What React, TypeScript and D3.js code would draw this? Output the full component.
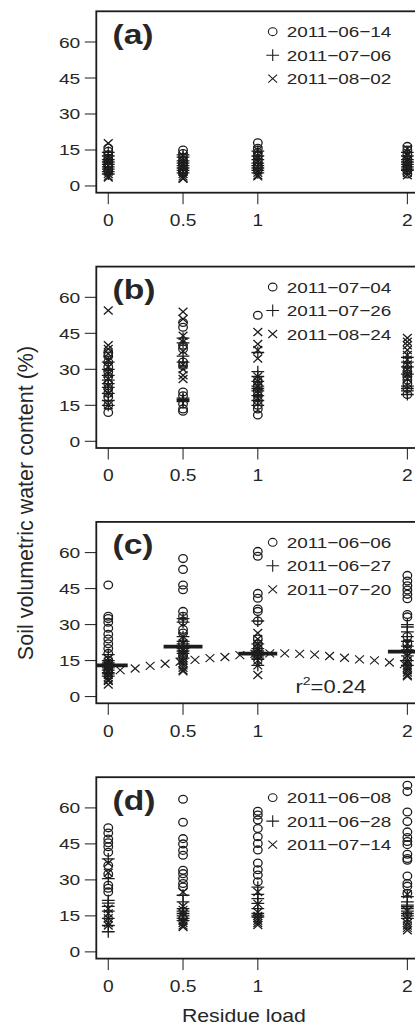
import React from 'react';
import * as d3 from 'd3';

// ---------- data ----------
const xCats = [0, 0.5, 1, 2];
const xTicks = [0, 0.5, 1, 2];
const xTickLabels = ['0', '0.5', '1', '2'];
const yTicks = [0, 15, 30, 45, 60];
const panelLabels = ['(a)', '(b)', '(c)', '(d)'];

const legendA = ['2011\u221206\u221214', '2011\u221207\u221206', '2011\u221208\u221202'];
const legendB = ['2011\u221207\u221204', '2011\u221207\u221226', '2011\u221208\u221224'];
const legendC = ['2011\u221206\u221206', '2011\u221206\u221227', '2011\u221207\u221220'];
const legendD = ['2011\u221206\u221208', '2011\u221206\u221228', '2011\u221207\u221214'];

// values per residue load (0, 0.5, 1, 2)
const aCircle = [
  [15.8, 14.5, 13, 11.5, 10.5, 9.5, 8.5, 7.5, 6.5],
  [15.0, 13.5, 12, 10.5, 9.5, 8.5, 7, 6, 5.5],
  [18.0, 15.7, 14, 12.5, 11, 10, 9, 8, 7],
  [16.5, 15, 13, 11.5, 10, 9, 8, 6.5, 5],
];
const aPlus = [
  [14, 12.5, 11, 10, 9, 8, 7, 6, 5],
  [13, 12, 10.5, 9.5, 8.5, 7.5, 6.5, 5.5],
  [14.5, 12.5, 11, 9.5, 8.5, 7.5, 6.5, 5.5],
  [14, 12.5, 11, 10, 9, 8, 7, 6.5],
];
const aCross = [
  [17.8, 12, 10, 8.5, 7, 6, 5, 4, 3.5],
  [12.5, 10.5, 9, 7.5, 6, 5, 4, 3.2, 3],
  [15, 12.5, 10, 8, 6.5, 5.5, 4.5, 4],
  [15.5, 13, 11, 9, 7.5, 6.5, 5.5, 4.5],
];

const bCircle = [
  [37, 35.5, 33, 31, 29, 27, 24, 22, 20, 18.5, 15, 12],
  [49.5, 47.5, 40, 38.5, 33, 31.5, 20.5, 19, 15.5, 13.5, 12.5],
  [52.5, 25, 23, 21, 19, 17, 15, 13.5, 11],
  [31, 29, 27, 25.5, 24, 22, 19.5],
];
const bPlus = [
  [33, 30, 27.5, 25.5, 24, 22.5, 20, 17, 15],
  [43, 41, 35.5, 33, 18, 17.5, 17, 16.5],
  [37, 29, 27, 25, 23, 22, 21, 19, 17, 15],
  [35, 33, 31, 28, 23, 22, 21, 19.5],
];
const bCross = [
  [54.5, 40, 38.5, 36.5, 34, 31, 28, 26, 23, 20, 15],
  [54, 51, 44, 41.5, 37.5, 32, 30, 27.5, 26],
  [45.5, 40.5, 38, 34.5, 27, 25, 23, 20, 18],
  [43, 41.5, 40, 38, 36, 34, 32, 30, 28, 26],
];

const cCircle = [
  [46.5, 33.5, 32.5, 31, 28.5, 26, 24, 22, 20, 18, 15, 13, 11],
  [57.5, 53, 46.5, 44.5, 35.5, 33.5, 31.5, 28, 26.5, 22, 19, 17],
  [60.5, 58.5, 43, 41, 36.5, 35.5, 31.5, 24, 22, 20, 18],
  [50.5, 48.2, 46.2, 44.4, 42.6, 40.8, 34.2, 33.2, 25, 22, 19],
];
const cPlus = [
  [17.5, 15, 14, 13, 12, 11, 10, 9.5, 8.5],
  [32.5, 31, 25, 23, 22, 21, 20, 19, 18, 16],
  [31.5, 22, 20, 19, 18, 17, 16, 15.5, 13],
  [30, 29, 27, 25, 23, 21, 19.5, 18.5, 17, 15, 13],
];
const cCross = [
  [16, 14.5, 13, 12, 11, 10, 9, 8, 7, 6.5, 5],
  [25, 22, 20, 18, 16, 15, 14, 13, 12, 11, 10.5],
  [26.5, 24, 22, 20, 18, 16.5, 15, 13, 9],
  [22, 20, 17, 15, 14, 13, 12, 11, 10, 9, 8.5],
];
const cMeans = [13.0, 20.8, 17.9, 18.7];
const cFitX = [0.08, 0.18, 0.28, 0.38, 0.48, 0.58, 0.68, 0.78, 0.88, 0.98, 1.08, 1.18, 1.28, 1.38, 1.48, 1.58, 1.68, 1.78, 1.88, 1.98];
const cFitY = [11.0, 11.7, 12.8, 13.7, 14.5, 15.3, 16.0, 16.5, 17.3, 17.8, 18.0, 18.0, 17.8, 17.5, 16.9, 16.2, 15.5, 15.1, 14.2, 13.5];
const cR2 = '0.24';

const dCircle = [
  [51.7, 49.5, 47, 45.5, 43.8, 41.5, 36, 32.5, 27.8, 26.5, 25],
  [63.6, 54, 47.2, 45, 42.3, 40.3, 34, 32.6, 30.6, 28.5, 27],
  [58.6, 57, 55, 51.4, 48, 45.2, 42.5, 37, 34.2, 32, 29.2],
  [69.4, 66.8, 58.3, 54.3, 50, 47.7, 46, 44.7, 40.7, 38.9, 38.2, 31.6, 28.5, 27.4, 24.4],
];
const dPlus = [
  [38.8, 30.5, 21.5, 20.3, 19, 17, 14, 11, 8.4],
  [23.6, 20.8, 18, 17, 16, 15, 14, 13],
  [27, 24, 22.2, 20.2, 18, 16, 15, 14.5],
  [23, 20.8, 19.5, 18.8, 18, 17, 16, 15, 14],
];
const dCross = [
  [37, 33, 18, 16, 14, 12, 11],
  [25, 19, 17.5, 16, 14.5, 13, 12, 11, 10.4],
  [25, 20, 16.5, 15, 14, 13, 12, 11.2],
  [24, 17, 15, 13.5, 12, 11, 10, 9],
];

// ---------- layout ----------
const W = 415;
const H = 1027;
const plotLeft = 96.3;
const pxPerX = 149.55;
const panelTop0 = 11.3;
const pitch = 255.3;
const panelH = 181.4;
const INK = '#1c1c1c';
const TXT = '#262626';
const FONT = 'Liberation Sans, Arial, Helvetica, sans-serif';

const xScale = d3
  .scaleLinear()
  .domain([-0.08, 2.08])
  .range([plotLeft, plotLeft + 2.16 * pxPerX]);

type Sym = 'circle' | 'plus' | 'cross';

function Marker({ sym, cx, cy, sw = 1.3 }: { sym: Sym; cx: number; cy: number; sw?: number }) {
  if (sym === 'circle') {
    return <ellipse cx={cx} cy={cy} rx={4.3} ry={3.9} fill="none" stroke={INK} strokeWidth={sw} />;
  }
  if (sym === 'plus') {
    return (
      <path
        d={`M${cx - 6.4},${cy}H${cx + 6.4}M${cx},${cy - 5.9}V${cy + 5.9}`}
        stroke={INK}
        strokeWidth={sw}
        fill="none"
      />
    );
  }
  return (
    <path
      d={`M${cx - 4.4},${cy - 4}L${cx + 4.4},${cy + 4}M${cx - 4.4},${cy + 4}L${cx + 4.4},${cy - 4}`}
      stroke={INK}
      strokeWidth={sw}
      fill="none"
    />
  );
}

function SText({
  x,
  y,
  sx = 1,
  size,
  anchor = 'start',
  weight = 'normal',
  children,
}: {
  x: number;
  y: number;
  sx?: number;
  size: number;
  anchor?: string;
  weight?: string;
  children: React.ReactNode;
}) {
  return (
    <text
      transform={`translate(${x},${y}) scale(${sx},1)`}
      fontSize={size}
      fontFamily={FONT}
      fontWeight={weight}
      textAnchor={anchor}
      fill={TXT}
    >
      {children}
    </text>
  );
}

interface PanelDef {
  circle: number[][];
  plus: number[][];
  cross: number[][];
  legend: string[];
  label: string;
  extra?: 'c';
}

const panels: PanelDef[] = [
  { circle: aCircle, plus: aPlus, cross: aCross, legend: legendA, label: panelLabels[0] },
  { circle: bCircle, plus: bPlus, cross: bCross, legend: legendB, label: panelLabels[1] },
  { circle: cCircle, plus: cPlus, cross: cCross, legend: legendC, label: panelLabels[2], extra: 'c' },
  { circle: dCircle, plus: dPlus, cross: dCross, legend: legendD, label: panelLabels[3] },
];

function Panel({ p, i }: { p: PanelDef; i: number }) {
  const top = panelTop0 + i * pitch;
  const bottom = top + panelH;
  const yScale = d3.scaleLinear().domain([-2.8, 72.8]).range([bottom, top]);
  const clipId = `clip${i}`;
  const [x0, x1] = xScale.range();
  const series: [Sym, number[][]][] = [
    ['circle', p.circle],
    ['plus', p.plus],
    ['cross', p.cross],
  ];
  const syms: Sym[] = ['circle', 'plus', 'cross'];
  return (
    <g>
      <defs>
        <clipPath id={clipId}>
          <rect x={x0} y={top} width={x1 - x0} height={panelH} />
        </clipPath>
      </defs>
      <g clipPath={`url(#${clipId})`}>
        {series.map(([sym, groups]) =>
          groups.map((vals, gi) =>
            vals.map((v, k) => (
              <Marker key={`${sym}-${gi}-${k}`} sym={sym} cx={xScale(xCats[gi])} cy={yScale(v)} />
            ))
          )
        )}
        {p.extra === 'c' && (
          <g>
            {cFitX.map((fx, k) => (
              <Marker key={`fit${k}`} sym="cross" cx={xScale(fx)} cy={yScale(cFitY[k])} sw={1.15} />
            ))}
            {cMeans.map((m, k) => (
              <line
                key={`mean${k}`}
                x1={xScale(xCats[k] - 0.13)}
                x2={xScale(xCats[k] + 0.13)}
                y1={yScale(m)}
                y2={yScale(m)}
                stroke={INK}
                strokeWidth={3.8}
              />
            ))}
          </g>
        )}
      </g>
      {/* frame */}
      <rect x={x0} y={top} width={x1 - x0} height={panelH} fill="none" stroke={INK} strokeWidth={1.8} />
      {/* y axis */}
      {yTicks.map((t) => (
        <g key={`yt${t}`}>
          <line x1={x0 - 11.5} x2={x0} y1={yScale(t)} y2={yScale(t)} stroke={INK} strokeWidth={1} />
          <SText x={x0 - 16} y={yScale(t) + 5.5} sx={1.24} size={15.5} anchor="end">
            {String(t)}
          </SText>
        </g>
      ))}
      {/* x axis */}
      {xTicks.map((t, k) => (
        <g key={`xt${t}`}>
          <line x1={xScale(t)} x2={xScale(t)} y1={bottom} y2={bottom + 11.5} stroke={INK} strokeWidth={1} />
          <SText x={xScale(t)} y={yScale(0) + 40} sx={1.2} size={16} anchor="middle">
            {xTickLabels[k]}
          </SText>
        </g>
      ))}
      {/* panel label */}
      <SText x={112.5} y={top + 32.5} sx={1.2} size={28} weight="bold">
        {p.label}
      </SText>
      {/* legend */}
      {p.legend.map((lab, k) => {
        const cy = top + 20.4 + k * 23.5;
        return (
          <g key={`lg${k}`}>
            <Marker sym={syms[k]} cx={272.7} cy={cy} sw={1.1} />
            <SText x={286.7} y={cy + 5.6} sx={1.22} size={15.5}>
              {lab}
            </SText>
          </g>
        );
      })}
      {p.extra === 'c' && (
        <SText x={295.5} y={yScale(0) - 4} sx={1.22} size={18}>
          r
          <tspan dy={-8} fontSize={11.5}>
            2
          </tspan>
          <tspan dy={8}>={cR2}</tspan>
        </SText>
      )}
    </g>
  );
}

export default function App() {
  return (
    <div style={{ position: 'absolute', left: 0, top: 0, width: W, height: H, background: '#fff' }}>
      <svg width={W} height={H} viewBox={`0 0 ${W} ${H}`} style={{ display: 'block' }}>
        <rect x={0} y={0} width={W} height={H} fill="#fff" />
        {panels.map((p, i) => (
          <Panel key={i} p={p} i={i} />
        ))}
        <text
          transform={`translate(33,503) rotate(-90)`}
          fontSize={21.5}
          fontFamily={FONT}
          textAnchor="middle"
          fill={TXT}
        >
          Soil volumetric water content (%)
        </text>
        <SText x={243.9} y={1021.5} sx={1.18} size={18} anchor="middle">
          Residue load
        </SText>
      </svg>
    </div>
  );
}
